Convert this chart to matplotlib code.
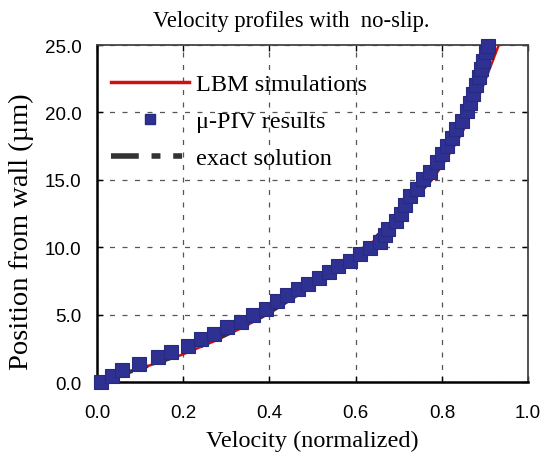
import matplotlib
matplotlib.use("Agg")
import matplotlib.pyplot as plt
from matplotlib.lines import Line2D

# exact solution
exact_y = [0, 1, 2, 3, 4, 5, 6, 7, 8, 9, 10, 11, 12, 13, 14, 15, 16, 17, 18, 19, 20, 21, 22, 23, 24, 25]
exact_x = [0, 0.10, 0.19, 0.265, 0.33, 0.39, 0.44, 0.49, 0.535, 0.58, 0.622, 0.656, 0.687, 0.716,
           0.745, 0.773, 0.795, 0.815, 0.834, 0.85, 0.864, 0.878, 0.891, 0.903, 0.914, 0.925]
# LBM simulations
lbm_y = [0, 1, 2, 3, 4, 5, 6, 7, 8, 9, 10, 11, 12, 13, 14, 15, 16, 17, 18, 19, 20, 21, 22, 23, 24, 25]
lbm_x = [0, 0.10, 0.195, 0.27, 0.335, 0.395, 0.445, 0.495, 0.54, 0.585, 0.626, 0.66, 0.691, 0.72,
         0.749, 0.777, 0.799, 0.819, 0.838, 0.855, 0.869, 0.883, 0.896, 0.908, 0.92, 0.932]
# micro-PIV results
piv_y = [0.0, 0.47, 0.89, 1.34, 1.83, 2.2, 2.64, 3.19, 3.56, 4.06, 4.43, 4.97, 5.4, 6.03, 6.45,
         6.9, 7.27, 7.69, 8.14, 8.58, 9.0, 9.5, 9.92, 10.36, 10.9, 11.35, 11.96, 12.5, 13.1, 13.8,
         14.3, 15.06, 15.55, 16.3, 16.9, 17.5, 18.1, 18.8, 19.4, 20.1, 20.7, 21.4, 22.0, 22.6,
         23.2, 23.8, 24.5, 24.95]
piv_x = [0.01, 0.034, 0.059, 0.098, 0.142, 0.172, 0.212, 0.241, 0.271, 0.302, 0.334, 0.363, 0.392,
         0.417, 0.44, 0.467, 0.49, 0.514, 0.537, 0.56, 0.587, 0.61, 0.633, 0.657, 0.667, 0.676,
         0.693, 0.705, 0.715, 0.726, 0.742, 0.757, 0.773, 0.788, 0.80, 0.811, 0.823, 0.833, 0.846,
         0.858, 0.865, 0.873, 0.879, 0.885, 0.891, 0.896, 0.903, 0.908]

xticks = [0.0, 0.2, 0.4, 0.6, 0.8, 1.0]
yticks = [0.0, 5.0, 10.0, 15.0, 20.0, 25.0]

serif = ["Liberation Serif", "DejaVu Serif"]
sans = ["Liberation Sans", "DejaVu Sans"]

fig = plt.figure(figsize=(5.45, 4.56), dpi=100)
ax = fig.add_axes([0.178, 0.160, 0.791, 0.739])

ax.plot(exact_x, exact_y, color="#333333", lw=3, dashes=(5, 2.3, 1.6, 2.3, 1.6, 2.3), zorder=3)
ax.plot(lbm_x, lbm_y, color="#d01010", lw=1.8, zorder=2)
ax.plot(piv_x, piv_y, ls="none", marker="s", ms=9.8, mfc="#2e3192", mec="#262a80", mew=0.8,
        zorder=4, clip_on=False)

ax.set_xlim(0, 1.0)
ax.set_ylim(0, 25)
ax.set_xticks(xticks)
ax.set_yticks(yticks)
ax.set_xticklabels([f"{v:.1f}" for v in xticks], family=sans, fontsize=13.5)
ax.set_yticklabels([f"{v:.1f}" for v in yticks], family=sans, fontsize=13.5)
ax.tick_params(direction="in", top=True, right=True, length=4, width=1)
ax.tick_params(axis="x", pad=16)
ax.tick_params(axis="y", pad=11)
ax.grid(True, color="#555555", lw=0.9, ls=(0, (4, 6)))
for s in ["left", "bottom"]:
    ax.spines[s].set_linewidth(1.8)
    ax.spines[s].set_color("black")
for s in ["top", "right"]:
    ax.spines[s].set_linewidth(1.3)
    ax.spines[s].set_color("#444444")

ax.set_xlabel("Velocity (normalized)", family=serif, fontsize=17.5, labelpad=6)
ax.set_ylabel("Position from wall (µm)", family=serif, fontsize=20.5)
ax.yaxis.set_label_coords(-0.146, 0.448)
fig.text(0.534, 1 - 27 / 456, "Velocity profiles with  no-slip.", family=serif, fontsize=16.3,
         ha="center", va="baseline")

handles = [
    Line2D([], [], color="#d01010", lw=2.5),
    Line2D([], [], ls="none", marker="s", ms=7.5, mfc="#2e3192", mec="#262a80"),
    Line2D([], [], color="#333333", lw=4, dashes=(5, 2.3, 1.6, 2.3, 1.6, 2.3)),
]
labels = ["LBM simulations", "μ-PIV results", "exact solution"]
ax.legend(handles, labels, loc="upper left", frameon=False, prop={"family": serif, "size": 17.5},
          handlelength=3.2, handletextpad=0.3, labelspacing=0.62, borderaxespad=0.0,
          bbox_to_anchor=(0.01, 0.945))

fig.savefig("out.png", dpi=100)
